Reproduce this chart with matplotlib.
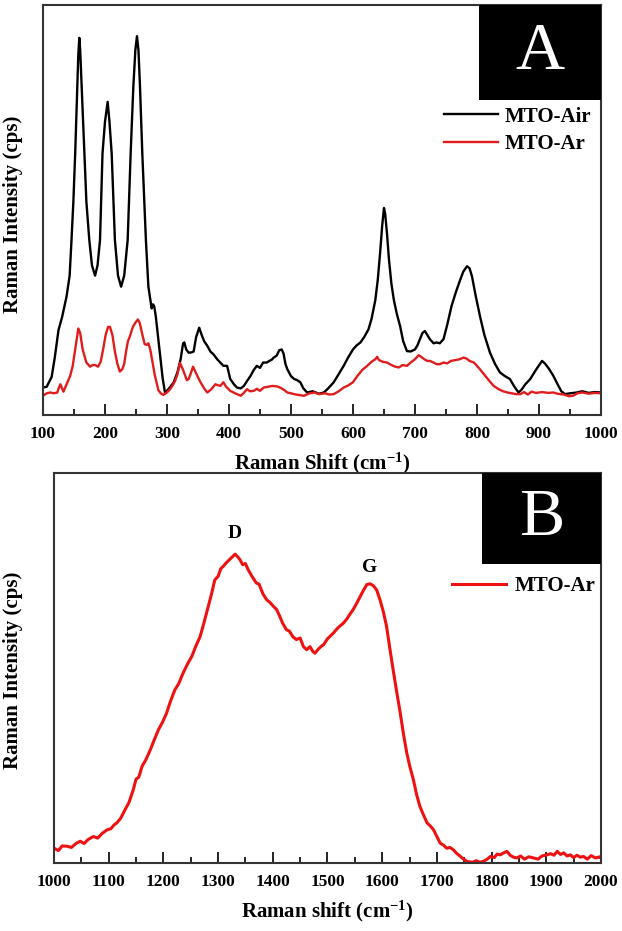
import matplotlib
matplotlib.use('Agg')
import matplotlib.pyplot as plt
from matplotlib.ticker import MultipleLocator

plt.rcParams['font.family'] = 'Liberation Serif'
plt.rcParams['font.weight'] = 'bold'
plt.rcParams['axes.labelweight'] = 'bold'
plt.rcParams['mathtext.fontset'] = 'custom'
plt.rcParams['mathtext.rm'] = 'Liberation Serif:bold'
plt.rcParams['mathtext.bf'] = 'Liberation Serif:bold'
plt.rcParams['mathtext.default'] = 'bf'

# Panel A spectra (wavenumber, intensity in arbitrary units)
air_x = [100, 106, 114, 119, 125, 131, 138, 143, 146, 149, 152, 155.4, 157, 158.6, 160, 162.4, 166.6, 170,
         174.7, 179, 184, 188, 192, 196, 200, 204.3, 207, 210.8, 216, 221, 226, 231, 236.6, 241.4, 245.7,
         249, 251.6, 254, 256.5, 260.2, 266, 270, 275.3, 277.5, 279.6, 282, 288.7, 293, 297, 300, 306, 311, 317,
         322, 326, 328, 331, 335, 340, 343, 347, 352, 356, 360, 365, 370, 375, 381, 386, 391, 397, 402,
         408, 413, 419, 424, 430, 435, 440, 445, 450, 455, 461, 465, 469, 472, 477, 481, 485, 488, 491,
         494, 500, 505, 510, 515, 520, 526, 535, 545, 553, 560, 569, 577, 585, 592, 600, 606, 612, 618,
         625, 630, 636, 640, 644, 647, 650, 652, 655, 658, 662, 666, 671, 676, 681, 687, 693, 700, 704,
         708, 712, 716, 720, 724, 730, 735, 740, 746, 752, 759, 766, 773, 778, 784, 788, 792, 798, 805,
         812, 821, 829, 837, 845, 853, 860, 867, 872, 878, 886, 895, 905, 910, 916, 923, 930, 936, 942,
         950, 961, 970, 980, 990, 1000]
air_y = [6.7, 6.9, 9.3, 14, 20.7, 24, 28.9, 34, 42.7, 52, 64, 80, 88, 92, 89, 80, 64, 52,
         42.7, 36.5, 34, 36.5, 42.7, 63.8, 71.5, 76.4, 72, 63.8, 42.7, 34, 31.3, 34, 42.7, 63.8, 80,
         89, 92.4, 89, 80, 63.8, 42.7, 31.3, 26, 27, 26.4, 24, 15, 9, 5.3, 5.9, 7, 8, 10.5,
         13.6, 17.5, 17.7, 16, 15.2, 15.3, 15.5, 19, 21.3, 19.5, 18, 16.9, 15.5, 14.8, 13.6, 12.8, 12, 12, 8.8,
         7.5, 6.7, 6.5, 7.1, 8.5, 9.6, 11, 12, 11.5, 12.8, 12.8, 13.2, 13.5, 14, 14.5, 15.8, 16, 15, 12.5,
         11.2, 9.5, 8.8, 8.5, 8, 6.5, 5.5, 5.8, 5.2, 5.5, 6.5, 8, 10, 12, 14, 16, 17, 17.7, 19,
         20.9, 23.5, 28, 33, 40, 46, 50.5, 49, 44, 38, 32, 28, 24.5, 21.7, 18, 15.6, 15.5, 16, 17,
         18.5, 20, 20.5, 19.5, 18.5, 17.5, 17.7, 17.5, 18.5, 22, 26.6, 30, 33, 35, 36.3, 35.8, 33.8, 29, 24,
         19.5, 15.2, 12.5, 10.4, 9.5, 8.8, 7, 5.5, 6.2, 7.5, 8.8, 11, 13.2, 12.5, 11.3, 9.6, 7.5, 5.8, 5.1,
         5.3, 5.5, 5.8, 5.4, 5.6, 5.5]

ar_x = [100, 106, 112, 118, 123, 126, 128, 130, 133, 138, 144, 148, 152, 157, 160, 164, 170, 176,
        180, 184, 189, 193, 197, 201, 205, 208, 212, 216, 220, 224, 228, 231, 234, 237, 240, 245,
        249, 253, 256, 260, 264, 267, 270, 273, 276, 280, 286, 290, 294, 300, 305, 309, 313, 317,
        321, 326, 332, 335, 338, 342, 346, 350, 354, 360, 365, 371, 378, 382, 386, 391, 395, 402, 410,
        419, 424, 429, 434, 440, 445, 450, 456, 463, 470, 477, 484, 490, 494, 500, 505, 512, 521, 530,
        538, 545, 555, 562, 569, 577, 585, 592, 600, 607, 615, 623, 630, 636, 639, 642, 648, 655, 662,
        668, 674, 680, 687, 693, 700, 706, 710, 715, 720, 724, 730, 735, 740, 746, 752, 758, 765, 772,
        778, 783, 788, 795, 803, 811, 819, 827, 835, 842, 849, 856, 863, 870, 876, 882, 888, 895, 905,
        915, 923, 930, 940, 948, 955, 962, 970, 980, 990, 1000]
ar_y = [4.7, 5.3, 5.5, 5.3, 5.5, 6.8, 7.5, 6.8, 5.7, 7.5, 9.6, 12, 16, 21.1, 20, 16, 12.8, 11.8,
        12.2, 12.2, 11.8, 13, 16, 19.5, 21.5, 21.5, 19.5, 15.5, 12.5, 10.6, 11.2, 12.5, 15.5, 18, 19.1, 21.5,
        22.5, 23.3, 22.5, 19.8, 17.3, 17.1, 17.5, 16, 13.5, 10, 6.1, 5.3, 4.9, 5.5, 6.3, 7.2, 8.3, 10,
        12.7, 11, 8.5, 8.8, 10, 11.8, 10.5, 9.2, 8, 6.5, 5.5, 6.2, 7.5, 7.3, 7.1, 8, 7, 5.9, 5.3,
        4.7, 5.4, 6.3, 5.8, 5.9, 6.4, 5.9, 6.7, 6.9, 7.1, 7, 6.6, 6, 5.5, 5.3, 5.1, 4.9, 4.7, 5.3,
        5.5, 5.1, 5.3, 5.0, 5.1, 5.8, 6.7, 7.2, 8, 9.5, 11, 12, 13, 13.6, 14.2, 13.4, 13, 12.8, 12.2,
        11.8, 11.6, 12.2, 12, 12.8, 13.6, 14.6, 14.2, 13.6, 13.2, 13.2, 12.8, 12.4, 12.4, 12.8, 12.6, 13.2, 13.4, 13.6,
        14, 13.8, 13.2, 12.8, 11.5, 10, 8.5, 7.1, 6.3, 5.8, 5.5, 5.3, 5.1, 5.1, 5.6, 5.0, 5.7, 5.4, 5.6,
        5.4, 5.5, 5.2, 5.0, 4.6, 4.7, 5.3, 5.5, 5.2, 5.4, 5.3]

# Panel B spectrum, carbon D and G bands
c_x = [1000, 1008, 1015, 1024, 1032, 1040, 1048, 1055, 1062, 1072, 1080, 1088, 1097, 1104, 1110, 1115,
       1122, 1130, 1137, 1145, 1150, 1155, 1161, 1168, 1176, 1183, 1191, 1198, 1206, 1213, 1221, 1228,
       1236, 1244, 1252, 1259, 1267, 1274, 1282, 1288, 1294, 1300, 1305, 1309, 1315, 1321, 1326, 1331,
       1336, 1340, 1345, 1350, 1355, 1362, 1370, 1375, 1382, 1389, 1395, 1400, 1407, 1412, 1418, 1425,
       1430, 1437, 1443, 1450, 1456, 1462, 1468, 1473, 1477, 1483, 1488, 1493, 1500, 1505, 1511, 1517,
       1523, 1529, 1535, 1541, 1547, 1553, 1560, 1566, 1572, 1578, 1584, 1590, 1596, 1602, 1608, 1614,
       1621, 1627, 1633, 1639, 1645, 1651, 1657, 1663, 1669, 1675, 1682, 1688, 1694, 1700, 1706, 1712,
       1718, 1724, 1730, 1736, 1743, 1749, 1755, 1765, 1772, 1779, 1786, 1792, 1798, 1805, 1810, 1816,
       1822, 1828, 1834, 1840, 1846, 1853, 1860, 1868, 1877, 1885, 1892, 1901, 1908, 1914, 1920, 1926,
       1932, 1938, 1944, 1950, 1956, 1962, 1968, 1975, 1982, 1990, 1998, 2000]
c_y = [3.8, 3.2, 4.4, 4.3, 4.0, 5.0, 5.6, 5.0, 6.0, 6.8, 6.4, 7.6, 8.5, 8.8, 9.8, 10.3,
       11.5, 13.7, 15.5, 18.8, 21.5, 22.0, 24.8, 26.5, 29, 31.5, 34.2, 36, 38.5, 41.5, 44.4, 46,
       48.7, 51, 53, 55.5, 58, 61.5, 65.8, 69, 72.6, 73.5, 75.5, 76, 77, 77.8, 78.5, 79.2,
       78.5, 77.8, 76.5, 76.8, 75.2, 73.5, 71.8, 71.5, 69, 67.5, 66.8, 66, 65, 63.5, 61.5, 59.8,
       59.5, 58, 57.3, 57.7, 55.5, 54.7, 55.5, 54.3, 53.8, 54.8, 55.5, 56, 57.5, 58.2, 59, 60,
       60.8, 61.5, 62.5, 63.8, 65, 66.5, 68.4, 70, 71.4, 71.6, 71.1, 70, 67.5, 64.5, 60.7, 55,
       48.7, 43.5, 38.5, 33, 28.2, 24.5, 21.4, 17.5, 14.5, 12.5, 10.3, 9.5, 8.5, 6.8, 5.1, 4.6,
       3.8, 4.0, 3.4, 2.5, 1.7, 1.0, 0.4, 0.2, 0.6, 0.2, 0.5, 1.0, 1.7, 1.4, 2.3, 2.1,
       2.6, 3.0, 2.0, 1.5, 1.3, 1.8, 1.0, 1.6, 1.3, 1.0, 1.8, 2.1, 2.4, 2.0, 3.0, 2.2,
       2.6, 1.8, 2.1, 1.4, 2.0, 1.5, 1.7, 1.0, 1.9, 1.3, 1.6, 1.3]


def styleAxes(ax, xmin, xmax):
    ax.set_xlim(xmin, xmax)
    ax.set_ylim(0, 100)
    ax.set_yticks([])
    ax.xaxis.set_major_locator(MultipleLocator(100))
    ax.xaxis.set_minor_locator(MultipleLocator(50))
    ax.tick_params(axis='x', which='major', direction='in', length=8, width=1.2,
                   labelsize=12.5, pad=8, top=False)
    ax.tick_params(axis='x', which='minor', direction='in', length=4, width=1.2, top=False)
    for lbl in ax.get_xticklabels():
        lbl.set_fontweight('bold')
    for s in ax.spines.values():
        s.set_linewidth(1.5)
        s.set_color('#333333')


def cornerBox(ax, x0, y0, letter):
    ax.add_patch(plt.Rectangle((x0, y0), 1 - x0, 1 - y0, transform=ax.transAxes,
                               facecolor='black', edgecolor='none', zorder=5))
    ax.text((x0 + 1) / 2, (y0 + 1) / 2, letter, transform=ax.transAxes, color='white',
            fontsize=49, fontweight='normal', ha='center', va='center', zorder=6)


fig = plt.figure(figsize=(6.22, 9.31), dpi=100)

# Panel A
axA = fig.add_axes([0.0691, 0.5542, 0.8971, 0.4404])
axA.plot(air_x, air_y, color='black', lw=1.7, label='MTO-Air')
axA.plot(ar_x, ar_y, color='#e01c1c', lw=1.7, label='MTO-Ar')
styleAxes(axA, 100, 1000)
cornerBox(axA, 0.781, 0.768, 'A')
axA.legend(loc='upper right', bbox_to_anchor=(0.982, 0.752), frameon=False, fontsize=15,
           handlelength=2.6, handletextpad=0.3, labelspacing=0.35, borderpad=0, borderaxespad=0)
axA.set_xlabel(r'Raman Shift (cm$^{-1}$)', fontsize=15, labelpad=6)
axA.set_ylabel('Raman Intensity (cps)', fontsize=15)
axA.yaxis.set_label_coords(-0.036, 0.49)

# Panel B
axB = fig.add_axes([0.0868, 0.0730, 0.8794, 0.4189])
axB.plot(c_x, c_y, color='#ee1111', lw=2.2, label='MTO-Ar')
styleAxes(axB, 1000, 2000)
cornerBox(axB, 0.782, 0.767, 'B')
axB.legend(loc='upper right', bbox_to_anchor=(0.99, 0.735), frameon=False, fontsize=15,
           handlelength=2.6, handletextpad=0.4, borderpad=0, borderaxespad=0)
axB.text(1331, 82.2, 'D', fontsize=14, ha='center', va='bottom')
axB.text(1577, 73.6, 'G', fontsize=14, ha='center', va='bottom')
axB.set_xlabel(r'Raman shift (cm$^{-1}$)', fontsize=15, labelpad=6)
axB.set_ylabel('Raman Intensity (cps)', fontsize=15)
axB.yaxis.set_label_coords(-0.057, 0.495)

fig.savefig('out.png', dpi=100)
